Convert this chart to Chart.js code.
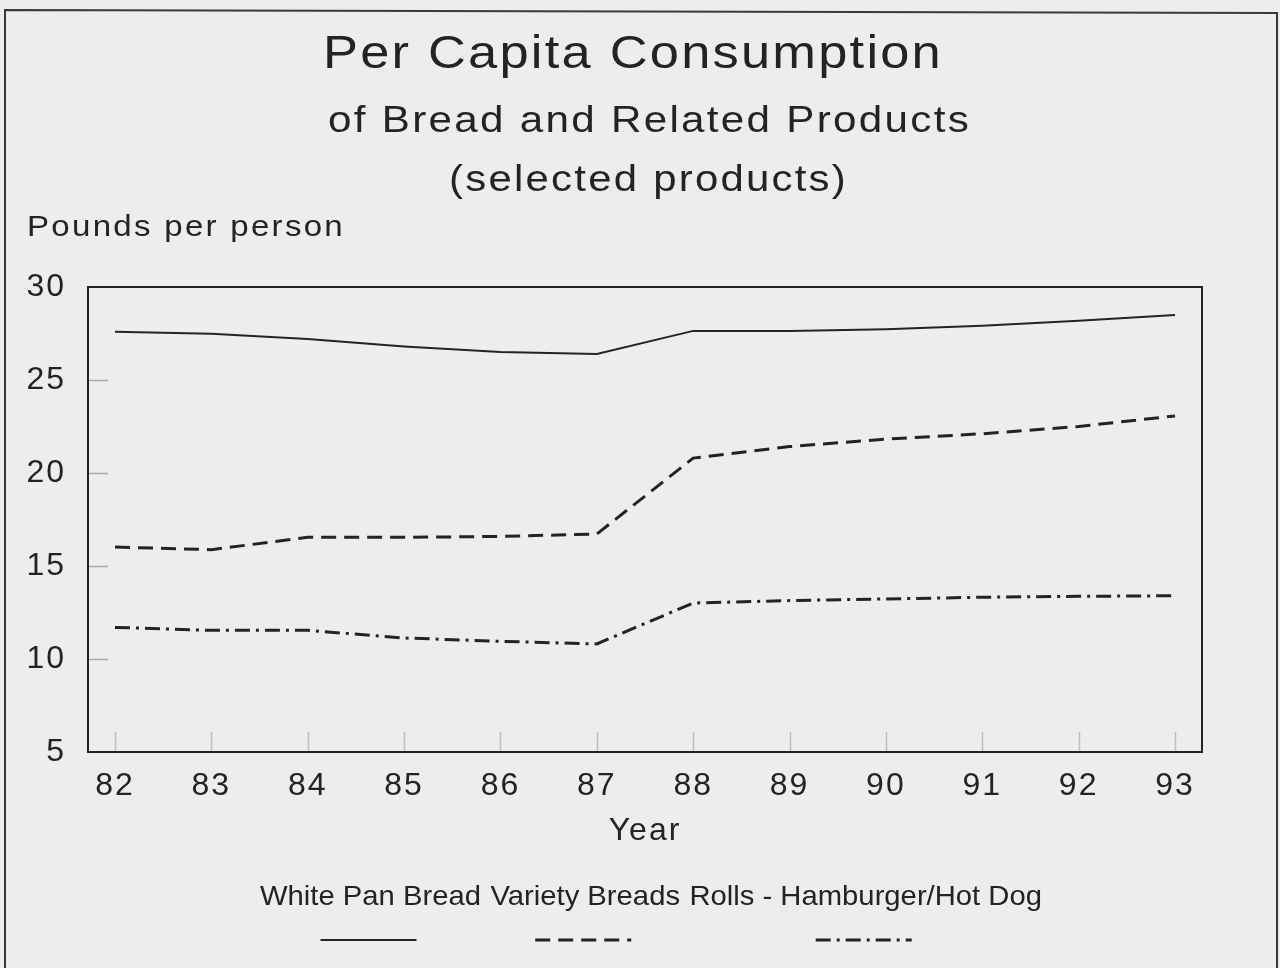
<!DOCTYPE html>
<html>
<head>
<meta charset="utf-8">
<title>Per Capita Consumption of Bread and Related Products</title>
<script src="https://cdn.jsdelivr.net/npm/chart.js@4.4.0/dist/chart.umd.min.js"></script>
<style>
  html, body { margin: 0; padding: 0; background: #ededed; }
  #wrap { width: 1280px; height: 968px; position: relative; }
</style>
</head>
<body>
<div id="wrap"><canvas id="chart"></canvas></div>
<script>
// Podaci sa slike (funti po osobi, 1982-1993)
const years = [82, 83, 84, 85, 86, 87, 88, 89, 90, 91, 92, 93];
const whitePanBread = [27.6, 27.48, 27.2, 26.8, 26.5, 26.4, 27.64, 27.64, 27.73, 27.91, 28.19, 28.5];
const varietyBreads = [16.02, 15.88, 16.54, 16.54, 16.59, 16.72, 20.8, 21.42, 21.82, 22.11, 22.5, 23.07];
const rollsHamburgerHotDog = [11.7, 11.54, 11.54, 11.13, 10.95, 10.81, 13.01, 13.14, 13.23, 13.32, 13.37, 13.4];
const yTicks = [5, 10, 15, 20, 25, 30];

const titleLines = ['Per Capita Consumption', 'of Bread and Related Products', '(selected products)'];
const yAxisLabel = 'Pounds per person';
const xAxisLabel = 'Year';
const seriesNames = ['White Pan Bread', 'Variety Breads', 'Rolls - Hamburger/Hot Dog'];

const INK = '#232323';
const FONT = "'Liberation Sans', Arial, sans-serif";

const toPoints = vals => years.map((y, i) => ({ x: y, y: vals[i] }));

// tekst razvucen vodoravno izmedju x1 i x2 (original je malo sirih slova)
function fitText(ctx, text, x1, x2, y, font, ls) {
    ctx.font = font;
    ctx.letterSpacing = ls;
    const w = ctx.measureText(text).width;
    ctx.save();
    ctx.translate(x1, y);
    ctx.scale((x2 - x1) / w, 1);
    ctx.textAlign = 'left';
    ctx.fillText(text, 0, 0);
    ctx.restore();
}

// Crtanje naslova, okvira, unutrasnjih crtica i legende
const decor = {
    id: 'decor',
    beforeDraw(chart) {
        const ctx = chart.ctx;
        ctx.save();
        ctx.fillStyle = '#ededed';
        ctx.fillRect(0, 0, chart.width, chart.height);
        ctx.strokeStyle = '#3a3a3a';
        ctx.lineWidth = 2;
        ctx.beginPath();
        ctx.moveTo(5, 975); ctx.lineTo(5, 10); ctx.lineTo(1277, 13); ctx.lineTo(1277, 975);
        ctx.stroke();
        ctx.restore();
        ctx.letterSpacing = '2px';
    },
    afterDatasetsDraw(chart) {
        const ctx = chart.ctx;
        const { left, right, top, bottom } = chart.chartArea;
        const xs = chart.scales.x, ys = chart.scales.y;
        ctx.save();
        ctx.lineWidth = 1.5;
        ctx.strokeStyle = '#a8a8a8';
        yTicks.filter(v => v > ys.min && v < ys.max).forEach(v => {
            const py = Math.round(ys.getPixelForValue(v)) + 0.5;
            ctx.beginPath(); ctx.moveTo(left, py); ctx.lineTo(left + 20, py); ctx.stroke();
        });
        ctx.strokeStyle = '#bdbdbd';
        years.forEach(v => {
            const px = Math.round(xs.getPixelForValue(v)) + 0.5;
            ctx.beginPath(); ctx.moveTo(px, bottom); ctx.lineTo(px, bottom - 20); ctx.stroke();
        });
        ctx.strokeStyle = INK;
        ctx.lineWidth = 2;
        ctx.strokeRect(left, top, right - left, bottom - top);
        ctx.restore();
    },
    afterDraw(chart) {
        const ctx = chart.ctx;
        ctx.save();
        ctx.fillStyle = INK;
        ctx.textBaseline = 'alphabetic';

        fitText(ctx, titleLines[0], 323, 943, 68, '47px ' + FONT, '2px');
        fitText(ctx, titleLines[1], 328, 971, 132, '37px ' + FONT, '2px');
        fitText(ctx, titleLines[2], 449, 848, 191, '37px ' + FONT, '2px');
        fitText(ctx, yAxisLabel, 27, 345, 236, '29px ' + FONT, '2px');

        // legenda: tekst u jednom redu, uzorak linije ispod svakog naziva
        ctx.font = '28px ' + FONT;
        ctx.letterSpacing = '0px';
        const gap = 9;
        const widths = seriesNames.map(n => ctx.measureText(n).width);
        const total = widths.reduce((a, b) => a + b, 0) + gap * (widths.length - 1);
        const sx = (1042 - 260) / total;
        let x = 260;
        chart.data.datasets.forEach((ds, i) => {
            fitText(ctx, seriesNames[i], x, x + widths[i] * sx, 905, '28px ' + FONT, '0px');
            const cx = x + widths[i] * sx / 2;
            ctx.save();
            ctx.strokeStyle = ds.borderColor;
            ctx.lineWidth = ds.borderWidth;
            ctx.setLineDash(ds.borderDash || []);
            ctx.beginPath();
            ctx.moveTo(cx - 50, 940);
            ctx.lineTo(cx + 46, 940);
            ctx.stroke();
            ctx.restore();
            x += (widths[i] + gap) * sx;
        });
        ctx.restore();
    }
};

new Chart(document.getElementById('chart'), {
    type: 'line',
    data: {
        datasets: [{
            label: seriesNames[0],
            data: toPoints(whitePanBread),
            borderColor: INK,
            borderWidth: 2,
            borderDash: [],
            pointRadius: 0,
            tension: 0
        }, {
            label: seriesNames[1],
            data: toPoints(varietyBreads),
            borderColor: INK,
            borderWidth: 3,
            borderDash: [15, 8],
            pointRadius: 0,
            tension: 0
        }, {
            label: seriesNames[2],
            data: toPoints(rollsHamburgerHotDog),
            borderColor: INK,
            borderWidth: 3,
            borderDash: [15, 6, 3, 6],
            pointRadius: 0,
            tension: 0
        }]
    },
    options: {
        responsive: true,
        maintainAspectRatio: false,
        animation: false,
        layout: { padding: { top: 287, left: 0, right: 78, bottom: 118 } },
        plugins: {
            legend: { display: false },
            title: { display: false },
            tooltip: { enabled: false }
        },
        scales: {
            x: {
                type: 'linear',
                min: 81.72,
                max: 93.28,
                afterBuildTicks: scale => { scale.ticks = years.map(v => ({ value: v })); },
                afterFit: scale => { scale.height = 98; },
                grid: { display: false },
                border: { display: false },
                ticks: {
                    color: INK,
                    font: { family: FONT, size: 32 },
                    padding: 7,
                    maxRotation: 0,
                    autoSkip: false,
                    callback: v => String(v)
                },
                title: {
                    display: true,
                    text: xAxisLabel,
                    color: INK,
                    font: { family: FONT, size: 32 },
                    padding: 0
                }
            },
            y: {
                min: 5,
                max: 30,
                afterBuildTicks: scale => { scale.ticks = yTicks.map(v => ({ value: v })); },
                afterFit: scale => { scale.width = 88; },
                grid: { display: false },
                border: { display: false },
                ticks: {
                    color: INK,
                    font: { family: FONT, size: 32 },
                    padding: 14
                }
            }
        }
    },
    plugins: [decor]
});
</script>
</body>
</html>
